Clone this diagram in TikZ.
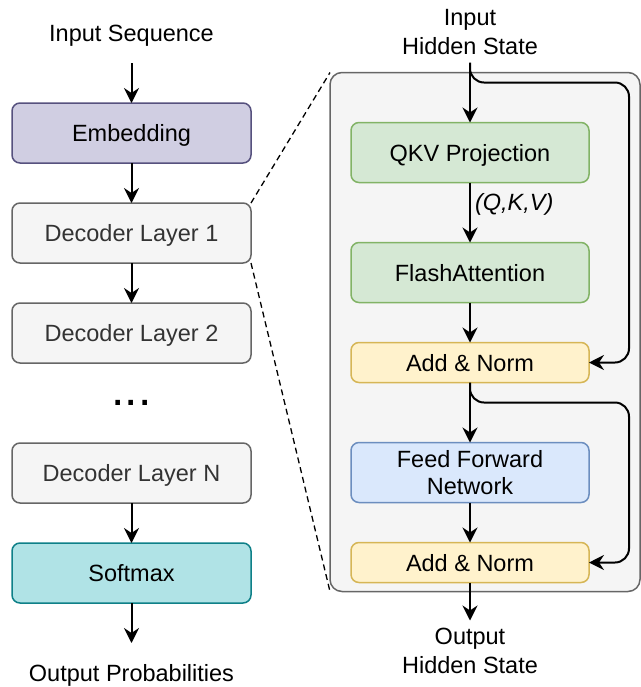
\documentclass[tikz,border=0pt]{standalone}
\usepackage{fontspec}
\setmainfont{Liberation Sans}
\usetikzlibrary{arrows.meta,positioning,fit,backgrounds,calc}

\definecolor{embfill}{HTML}{D0CEE2}
\definecolor{embline}{HTML}{56517E}
\definecolor{decfill}{HTML}{F5F5F5}
\definecolor{decline}{HTML}{666666}
\definecolor{dectext}{HTML}{333333}
\definecolor{softfill}{HTML}{B0E3E6}
\definecolor{softline}{HTML}{0E8088}
\definecolor{attnfill}{HTML}{D5E8D4}
\definecolor{attnline}{HTML}{82B366}
\definecolor{normfill}{HTML}{FFF2CC}
\definecolor{normline}{HTML}{D6B656}
\definecolor{ffnfill}{HTML}{DAE8FC}
\definecolor{ffnline}{HTML}{6C8EBF}

\begin{document}
\begin{tikzpicture}[
    font=\fontsize{11.75pt}{14.5pt}\selectfont,
    node distance=20pt,
    box/.style={draw, rounded corners=4pt, line width=0.75pt, align=center, outer sep=0pt,
                inner ysep=1pt, font=\fontsize{11.75pt}{13.5pt}\selectfont},
    oneline/.style={text depth=0pt},
    layer/.style={box, oneline, minimum width=119.5pt, minimum height=30pt},
    embed/.style={layer, fill=embfill, draw=embline},
    decoder/.style={layer, fill=decfill, draw=decline, text=dectext},
    soft/.style={layer, fill=softfill, draw=softline},
    block/.style={box, minimum width=119pt, minimum height=30pt},
    attn/.style={block, oneline, fill=attnfill, draw=attnline},
    ffn/.style={block, fill=ffnfill, draw=ffnline},
    norm/.style={block, oneline, minimum height=20pt, fill=normfill, draw=normline},
    label/.style={align=center, inner sep=0pt, outer sep=0pt, minimum height=30pt},
    flow/.style={-{Stealth[length=7.5pt, width=7.5pt, inset=2.5pt]}, line width=1pt},
    region/.style={draw=decline, fill=decfill, rounded corners=6pt, line width=0.75pt,
                   inner sep=0pt, outer sep=0pt},
    zoomline/.style={dashed, dash pattern=on 3pt off 2pt, line width=0.65pt},
]
\useasboundingbox (0,0) rectangle (320.5pt,-343.5pt);

% ===================== MODEL STACK =====================
\node[label, oneline]            (inseq)  at (65.75pt,-16.5pt) {Input Sequence};
\node[embed,   below=of inseq]   (emb)    {Embedding};
\node[decoder, below=of emb]     (dec1)   {Decoder Layer 1};
\node[decoder, below=of dec1]    (dec2)   {Decoder Layer 2};
\node[decoder, below=40pt of dec2] (decN) {Decoder Layer N};
\node[soft,    below=of decN]    (soft)   {Softmax};
\node[label, oneline, below=of soft] (outp) {Output Probabilities};
\node[font=\fontsize{24pt}{24pt}\selectfont, inner sep=0pt]
     (dots) at ($(dec2.south)!0.5!(decN.north)$) {...};

\draw[flow] (inseq) -- (emb);
\draw[flow] (emb)   -- (dec1);
\draw[flow] (dec1)  -- (dec2);
\draw[flow] (decN)  -- (soft);
\draw[flow] (soft)  -- (outp);

% ===================== ONE DECODER LAYER =====================
\node[label]                    (inhs)  at (235pt,-16.25pt) {Input\\Hidden State};
\node[attn, below=30pt of inhs] (qkv)   {QKV Projection};
\node[attn, below=30pt of qkv]  (flash) {FlashAttention};
\node[norm, below=of flash]     (an1)   {Add \& Norm};
\node[ffn,  below=30pt of an1]  (ffn)   {Feed Forward\\Network};
\node[norm, below=of ffn]       (an2)   {Add \& Norm};
\node[label, below=19pt of an2] (ouths) {Output\\Hidden State};

\draw[flow] (inhs)  -- (qkv);
\draw[flow] (qkv)   -- (flash) node[pos=0.37, right, inner sep=2pt] {\textit{(Q,K,V)}};
\draw[flow] (flash) -- (an1);
\draw[flow] (an1)   -- (ffn);
\draw[flow] (ffn)   -- (an2);
\draw[flow] (an2)   -- (ouths);

% residual connections
\coordinate (byp1) at ($(qkv.north east)+(20pt,20pt)$);
\coordinate (byp2) at ($(ffn.north east)+(20pt,20pt)$);
\draw[flow, rounded corners=7pt] (inhs.south) |- (byp1) |- (an1.east);
\draw[flow, rounded corners=7pt] (an1.south)  |- (byp2) |- (an2.east);

\coordinate (pnw) at ($(qkv.north west)+(-10.5pt,25pt)$);
\coordinate (pse) at ($(an2.south east)+(25.5pt,-4.5pt)$);
\begin{scope}[on background layer]
  \node[region, fit=(pnw)(pse)] (panel) {};
\end{scope}

% zoom from the first layer onto its details
\draw[zoomline] (dec1.north east) -- (panel.north west);
\draw[zoomline] (dec1.south east) -- (panel.south west);

\end{tikzpicture}
\end{document}
